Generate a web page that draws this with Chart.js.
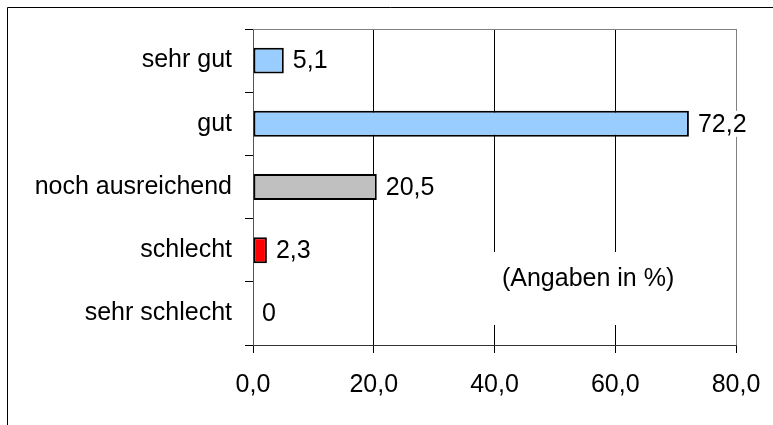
<!DOCTYPE html>
<html>
<head>
<meta charset="utf-8">
<script src="https://cdn.jsdelivr.net/npm/chart.js@4"></script>
<style>
  body { margin: 0; background: #fff; }
  canvas { display: block; }
</style>
</head>
<body>
<canvas id="myChart" width="773" height="425"></canvas>
<script>
// data
var categories = ["sehr gut", "gut", "noch ausreichend", "schlecht", "sehr schlecht"]
var values = [5.1, 72.2, 20.5, 2.3, 0]
var barColors = ["#99CCFF", "#99CCFF", "#C0C0C0", "#FF0000", "#FFFFFF"]
var axisMin = 0
var axisMax = 80
var axisStep = 20
var note = "(Angaben in %)"

var font = "'Liberation Sans', Arial, sans-serif"
var fontSize = 25

function fmt(v) {
    return String(v).replace(".", ",")
}

// frame, plot border and the note box
var decor = {
    id: "decor",
    beforeDraw: function (chart) {
        var ctx = chart.ctx
        ctx.save()
        ctx.strokeStyle = "#000"
        ctx.lineWidth = 1
        ctx.beginPath()
        ctx.moveTo(7.5, 430)
        ctx.lineTo(7.5, 7.5)
        ctx.lineTo(780, 7.5)
        ctx.stroke()
        ctx.restore()
    },
    beforeDatasetsDraw: function (chart) {
        var ctx = chart.ctx
        var a = chart.chartArea
        ctx.save()
        ctx.strokeStyle = "#808080"
        ctx.lineWidth = 1
        ctx.beginPath()
        ctx.moveTo(a.left, a.top + 0.5)
        ctx.lineTo(a.right + 0.5, a.top + 0.5)
        ctx.stroke()
        // note box covers the grid lines
        var x = chart.scales.x
        var cx = x.getPixelForValue(55.5)
        ctx.fillStyle = "#fff"
        ctx.fillRect(cx - 106, 252, 212, 73)
        ctx.fillStyle = "#000"
        ctx.font = fontSize + "px " + font
        ctx.textAlign = "center"
        ctx.textBaseline = "middle"
        ctx.fillText(note, cx, 279)
        ctx.restore()
    },
    afterDatasetsDraw: function (chart) {
        var ctx = chart.ctx
        var meta = chart.getDatasetMeta(0)
        ctx.save()
        ctx.font = fontSize + "px " + font
        ctx.textAlign = "left"
        ctx.textBaseline = "middle"
        meta.data.forEach(function (bar, i) {
            var txt = fmt(values[i])
            var tx = bar.x + 9
            var w = ctx.measureText(txt).width
            ctx.fillStyle = "#fff"
            ctx.fillRect(tx - 2, bar.y - 13, w + 4, 26)
            ctx.fillStyle = "#000"
            ctx.fillText(txt, tx, bar.y + 1)
        })
        ctx.restore()
    }
}

new Chart("myChart", {
    type: "bar",
    data: {
        labels: categories,
        datasets: [{
            data: values,
            backgroundColor: barColors,
            borderColor: "#000",
            borderWidth: 2,
            borderSkipped: false,
            categoryPercentage: 1,
            barPercentage: 0.41
        }]
    },
    options: {
        indexAxis: "y",
        responsive: false,
        animation: false,
        layout: { padding: { top: 29, right: 37, left: 0, bottom: 0 } },
        plugins: {
            legend: { display: false },
            tooltip: { enabled: false }
        },
        scales: {
            x: {
                min: axisMin,
                max: axisMax,
                afterFit: function (s) {
                    s.height = 80
                    s.paddingLeft = 0
                    s.paddingRight = 0
                },
                ticks: {
                    stepSize: axisStep,
                    color: "#000",
                    padding: 17,
                    maxRotation: 0,
                    font: { family: font, size: fontSize },
                    callback: function (v) { return v.toFixed(1).replace(".", ",") }
                },
                grid: {
                    color: function (c) {
                        if (c.tick.value === axisMax) return "#808080"
                        if (c.tick.value === axisMin) return "rgba(0,0,0,0)"
                        return "#000"
                    },
                    tickColor: "#000",
                    tickLength: 8,
                    lineWidth: 1
                },
                border: { color: "#333", width: 1 }
            },
            y: {
                afterFit: function (s) { s.width = 253 },
                ticks: {
                    color: "#000",
                    padding: 13,
                    font: { family: font, size: fontSize }
                },
                grid: {
                    offset: true,
                    drawOnChartArea: false,
                    tickColor: "#000",
                    tickLength: 8
                },
                border: { color: "#555", width: 1 }
            }
        }
    },
    plugins: [decor]
});
</script>
</body>
</html>
